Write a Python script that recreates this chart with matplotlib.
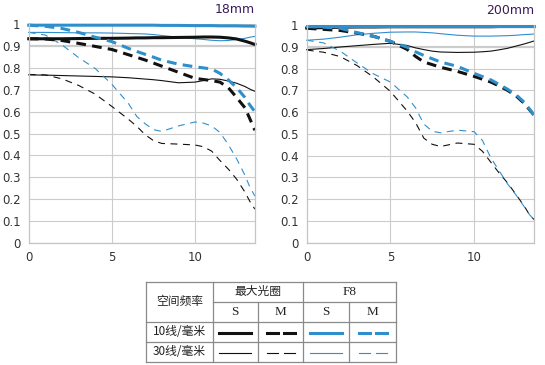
import matplotlib.pyplot as plt
import numpy as np

plt.rcParams['font.family'] = ['DejaVu Sans', 'Noto Sans CJK SC']
plt.rcParams['lines.scale_dashes'] = False

x = [0, 1, 2, 3, 4, 5, 6, 6.5, 7, 7.5, 8, 9, 10, 10.5, 11, 11.5, 12, 12.5, 13, 13.3, 13.6]

# 18mm
l_max_s10 = [0.933, 0.933, 0.933, 0.934, 0.935, 0.935, 0.936, 0.937, 0.937, 0.938, 0.938,
             0.939, 0.940, 0.941, 0.941, 0.940, 0.937, 0.932, 0.922, 0.915, 0.907]
l_max_m10 = [0.933, 0.932, 0.925, 0.912, 0.898, 0.884, 0.860, 0.848, 0.836, 0.822, 0.808,
             0.780, 0.752, 0.747, 0.742, 0.735, 0.710, 0.665, 0.618, 0.567, 0.515]
l_max_s30 = [0.768, 0.767, 0.765, 0.763, 0.761, 0.759, 0.755, 0.752, 0.749, 0.746, 0.742,
             0.732, 0.735, 0.742, 0.750, 0.748, 0.740, 0.730, 0.715, 0.703, 0.693]
l_max_m30 = [0.770, 0.768, 0.750, 0.720, 0.680, 0.624, 0.565, 0.533, 0.495, 0.468, 0.455,
             0.452, 0.448, 0.440, 0.420, 0.377, 0.338, 0.292, 0.233, 0.190, 0.155]
l_f8_s10 = [0.995, 0.995, 0.995, 0.995, 0.995, 0.995, 0.995, 0.995, 0.995, 0.995, 0.994,
            0.994, 0.993, 0.993, 0.993, 0.992, 0.992, 0.992, 0.991, 0.991, 0.990]
l_f8_m10 = [0.995, 0.990, 0.980, 0.962, 0.940, 0.920, 0.889, 0.875, 0.862, 0.849, 0.835,
            0.817, 0.805, 0.800, 0.795, 0.775, 0.745, 0.710, 0.665, 0.630, 0.600]
l_f8_s30 = [0.962, 0.962, 0.961, 0.960, 0.960, 0.959, 0.957, 0.956, 0.955, 0.952, 0.948,
            0.940, 0.933, 0.930, 0.926, 0.924, 0.925, 0.930, 0.935, 0.940, 0.944]
l_f8_m30 = [0.962, 0.950, 0.905, 0.847, 0.797, 0.725, 0.637, 0.578, 0.545, 0.518, 0.510,
            0.535, 0.553, 0.548, 0.535, 0.505, 0.450, 0.385, 0.310, 0.255, 0.215]

# 200mm
r_max_s10 = [0.986, 0.988, 0.990, 0.991, 0.991, 0.992, 0.992, 0.992, 0.992, 0.992, 0.992,
             0.992, 0.992, 0.992, 0.992, 0.993, 0.993, 0.993, 0.993, 0.993, 0.993]
r_max_m10 = [0.985, 0.980, 0.975, 0.963, 0.948, 0.925, 0.888, 0.856, 0.830, 0.818, 0.806,
             0.787, 0.764, 0.751, 0.738, 0.720, 0.700, 0.675, 0.640, 0.612, 0.585]
r_max_s30 = [0.887, 0.892, 0.899, 0.905, 0.911, 0.916, 0.906, 0.895, 0.887, 0.880, 0.876,
             0.874, 0.875, 0.877, 0.880, 0.886, 0.893, 0.903, 0.913, 0.920, 0.927]
r_max_m30 = [0.885, 0.875, 0.855, 0.814, 0.760, 0.695, 0.605, 0.552, 0.480, 0.452, 0.442,
             0.458, 0.452, 0.420, 0.370, 0.320, 0.275, 0.222, 0.168, 0.130, 0.105]
r_f8_s10 = [0.996] * 21
r_f8_m10 = [0.993, 0.990, 0.985, 0.965, 0.948, 0.925, 0.898, 0.877, 0.860, 0.845, 0.830,
            0.810, 0.778, 0.763, 0.748, 0.727, 0.705, 0.680, 0.645, 0.615, 0.585]
r_f8_s30 = [0.930, 0.935, 0.944, 0.955, 0.962, 0.967, 0.968, 0.968, 0.966, 0.964, 0.960,
            0.953, 0.949, 0.949, 0.949, 0.950, 0.951, 0.953, 0.956, 0.957, 0.959]
r_f8_m30 = [0.930, 0.918, 0.880, 0.826, 0.775, 0.738, 0.670, 0.620, 0.545, 0.512, 0.505,
            0.517, 0.510, 0.470, 0.390, 0.330, 0.270, 0.220, 0.165, 0.130, 0.105]

titles = ['18mm', '200mm']
ticks_y = [0, 0.1, 0.2, 0.3, 0.4, 0.5, 0.6, 0.7, 0.8, 0.9, 1]
ticks_y_labels = ['0', '0.1', '0.2', '0.3', '0.4', '0.5', '0.6', '0.7', '0.8', '0.9', '1']

BLACK = '#111111'
BLUE = '#2f8fcc'
GRID = '#cccccc'
THICK = 2.2
THIN = 0.8
DASH_THICK = (0, (7, 4.5))
DASH_THIN = (0, (5, 4))

fig = plt.figure(figsize=(5.45, 3.65), dpi=100)
axes = [fig.add_axes([0.0527, 0.334, 0.415, 0.600]),
        fig.add_axes([0.5628, 0.335, 0.4176, 0.5965])]

panels = [
    (l_max_s10, l_max_m10, l_max_s30, l_max_m30, l_f8_s10, l_f8_m10, l_f8_s30, l_f8_m30),
    (r_max_s10, r_max_m10, r_max_s30, r_max_m30, r_f8_s10, r_f8_m10, r_f8_s30, r_f8_m30),
]

for ax, data, title in zip(axes, panels, titles):
    ms10, mm10, ms30, mm30, fs10, fm10, fs30, fm30 = data
    for v in ticks_y:
        ax.axhline(v, color=GRID, lw=1.6 if v == 0.9 else 0.8, zorder=0)
    for v in [5, 10]:
        ax.axvline(v, color=GRID, lw=0.8, zorder=0)
    ax.plot(x, ms30, color=BLACK, lw=THIN, clip_on=False)
    ax.plot(x, mm30, color=BLACK, lw=THIN, ls=DASH_THIN, clip_on=False)
    ax.plot(x, fs30, color=BLUE, lw=THIN, clip_on=False)
    ax.plot(x, fm30, color=BLUE, lw=THIN, ls=DASH_THIN, clip_on=False)
    ax.plot(x, ms10, color=BLACK, lw=THICK, clip_on=False)
    ax.plot(x, mm10, color=BLACK, lw=THICK, ls=DASH_THICK, clip_on=False)
    ax.plot(x, fs10, color=BLUE, lw=THICK, clip_on=False)
    ax.plot(x, fm10, color=BLUE, lw=THICK, ls=DASH_THICK, clip_on=False)
    ax.set_xlim(0, 13.6)
    ax.set_ylim(0, 1)
    ax.set_xticks([0, 5, 10])
    ax.set_yticks(ticks_y)
    ax.set_yticklabels(ticks_y_labels)
    ax.tick_params(length=0, labelsize=8.5, colors='#333333', pad=6)
    for s in ['left', 'right', 'bottom']:
        ax.spines[s].set_color('#c4c4c4')
        ax.spines[s].set_linewidth(0.9)
    ax.spines['top'].set_visible(False)
    ax.text(1.0, 1.065, title, transform=ax.transAxes, ha='right', va='center',
            fontsize=9, color='#3a1a5a')

# table with line key
tab = fig.add_axes([0, 0, 1, 1])
tab.set_xlim(0, 545)
tab.set_ylim(365, 0)
tab.axis('off')

tc = '#8a8a8a'
cols = [146, 212.7, 257.7, 303.3, 349.3, 395.7]
rows = [281.7, 301.7, 321.7, 341.7, 361.7]
tab.plot([cols[0], cols[-1]], [rows[0], rows[0]], color=tc, lw=0.9)
tab.plot([cols[1], cols[-1]], [rows[1], rows[1]], color=tc, lw=0.9)
for r in rows[2:]:
    tab.plot([cols[0], cols[-1]], [r, r], color=tc, lw=0.9)
for c in [cols[0], cols[1], cols[3], cols[5]]:
    tab.plot([c, c], [rows[0], rows[-1]], color=tc, lw=0.9)
for c in [cols[2], cols[4]]:
    tab.plot([c, c], [rows[1], rows[-1]], color=tc, lw=0.9)

cjk = ['Noto Sans CJK SC', 'DejaVu Sans']
serif = ['Liberation Serif']
tab.text((cols[0] + cols[1]) / 2, rows[1], '空间频率', ha='center', va='center',
         fontsize=8.5, family=cjk, color='#222222')
tab.text((cols[1] + cols[3]) / 2, (rows[0] + rows[1]) / 2, '最大光圈', ha='center',
         va='center', fontsize=8.5, family=cjk, color='#222222')
tab.text((cols[3] + cols[5]) / 2, (rows[0] + rows[1]) / 2, 'F8', ha='center',
         va='center', fontsize=9.5, family=serif, color='#222222')
for i, lab in enumerate(['S', 'M', 'S', 'M']):
    tab.text((cols[i + 1] + cols[i + 2]) / 2, (rows[1] + rows[2]) / 2 + 0.5, lab,
             ha='center', va='center', fontsize=9.5, family=serif, color='#222222')
for j, lab in enumerate(['10线/毫米', '30线/毫米']):
    tab.text((cols[0] + cols[1]) / 2, (rows[2 + j] + rows[3 + j]) / 2, lab,
             ha='center', va='center', fontsize=8.5, family=cjk, color='#222222')

key_styles = [(BLACK, '-'), (BLACK, 'dash'), (BLUE, '-'), (BLUE, 'dash')]
for j, lw in enumerate([THICK, THIN]):
    yy = (rows[2 + j] + rows[3 + j]) / 2 + 1
    for i, (col, st) in enumerate(key_styles):
        cx = (cols[i + 1] + cols[i + 2]) / 2
        if st == '-':
            tab.plot([cx - 16, cx + 16], [yy, yy], color=col, lw=lw)
        else:
            tab.plot([cx - 14, cx - 3], [yy, yy], color=col, lw=lw)
            tab.plot([cx + 3, cx + 14], [yy, yy], color=col, lw=lw)

fig.savefig('out.png', dpi=100)
